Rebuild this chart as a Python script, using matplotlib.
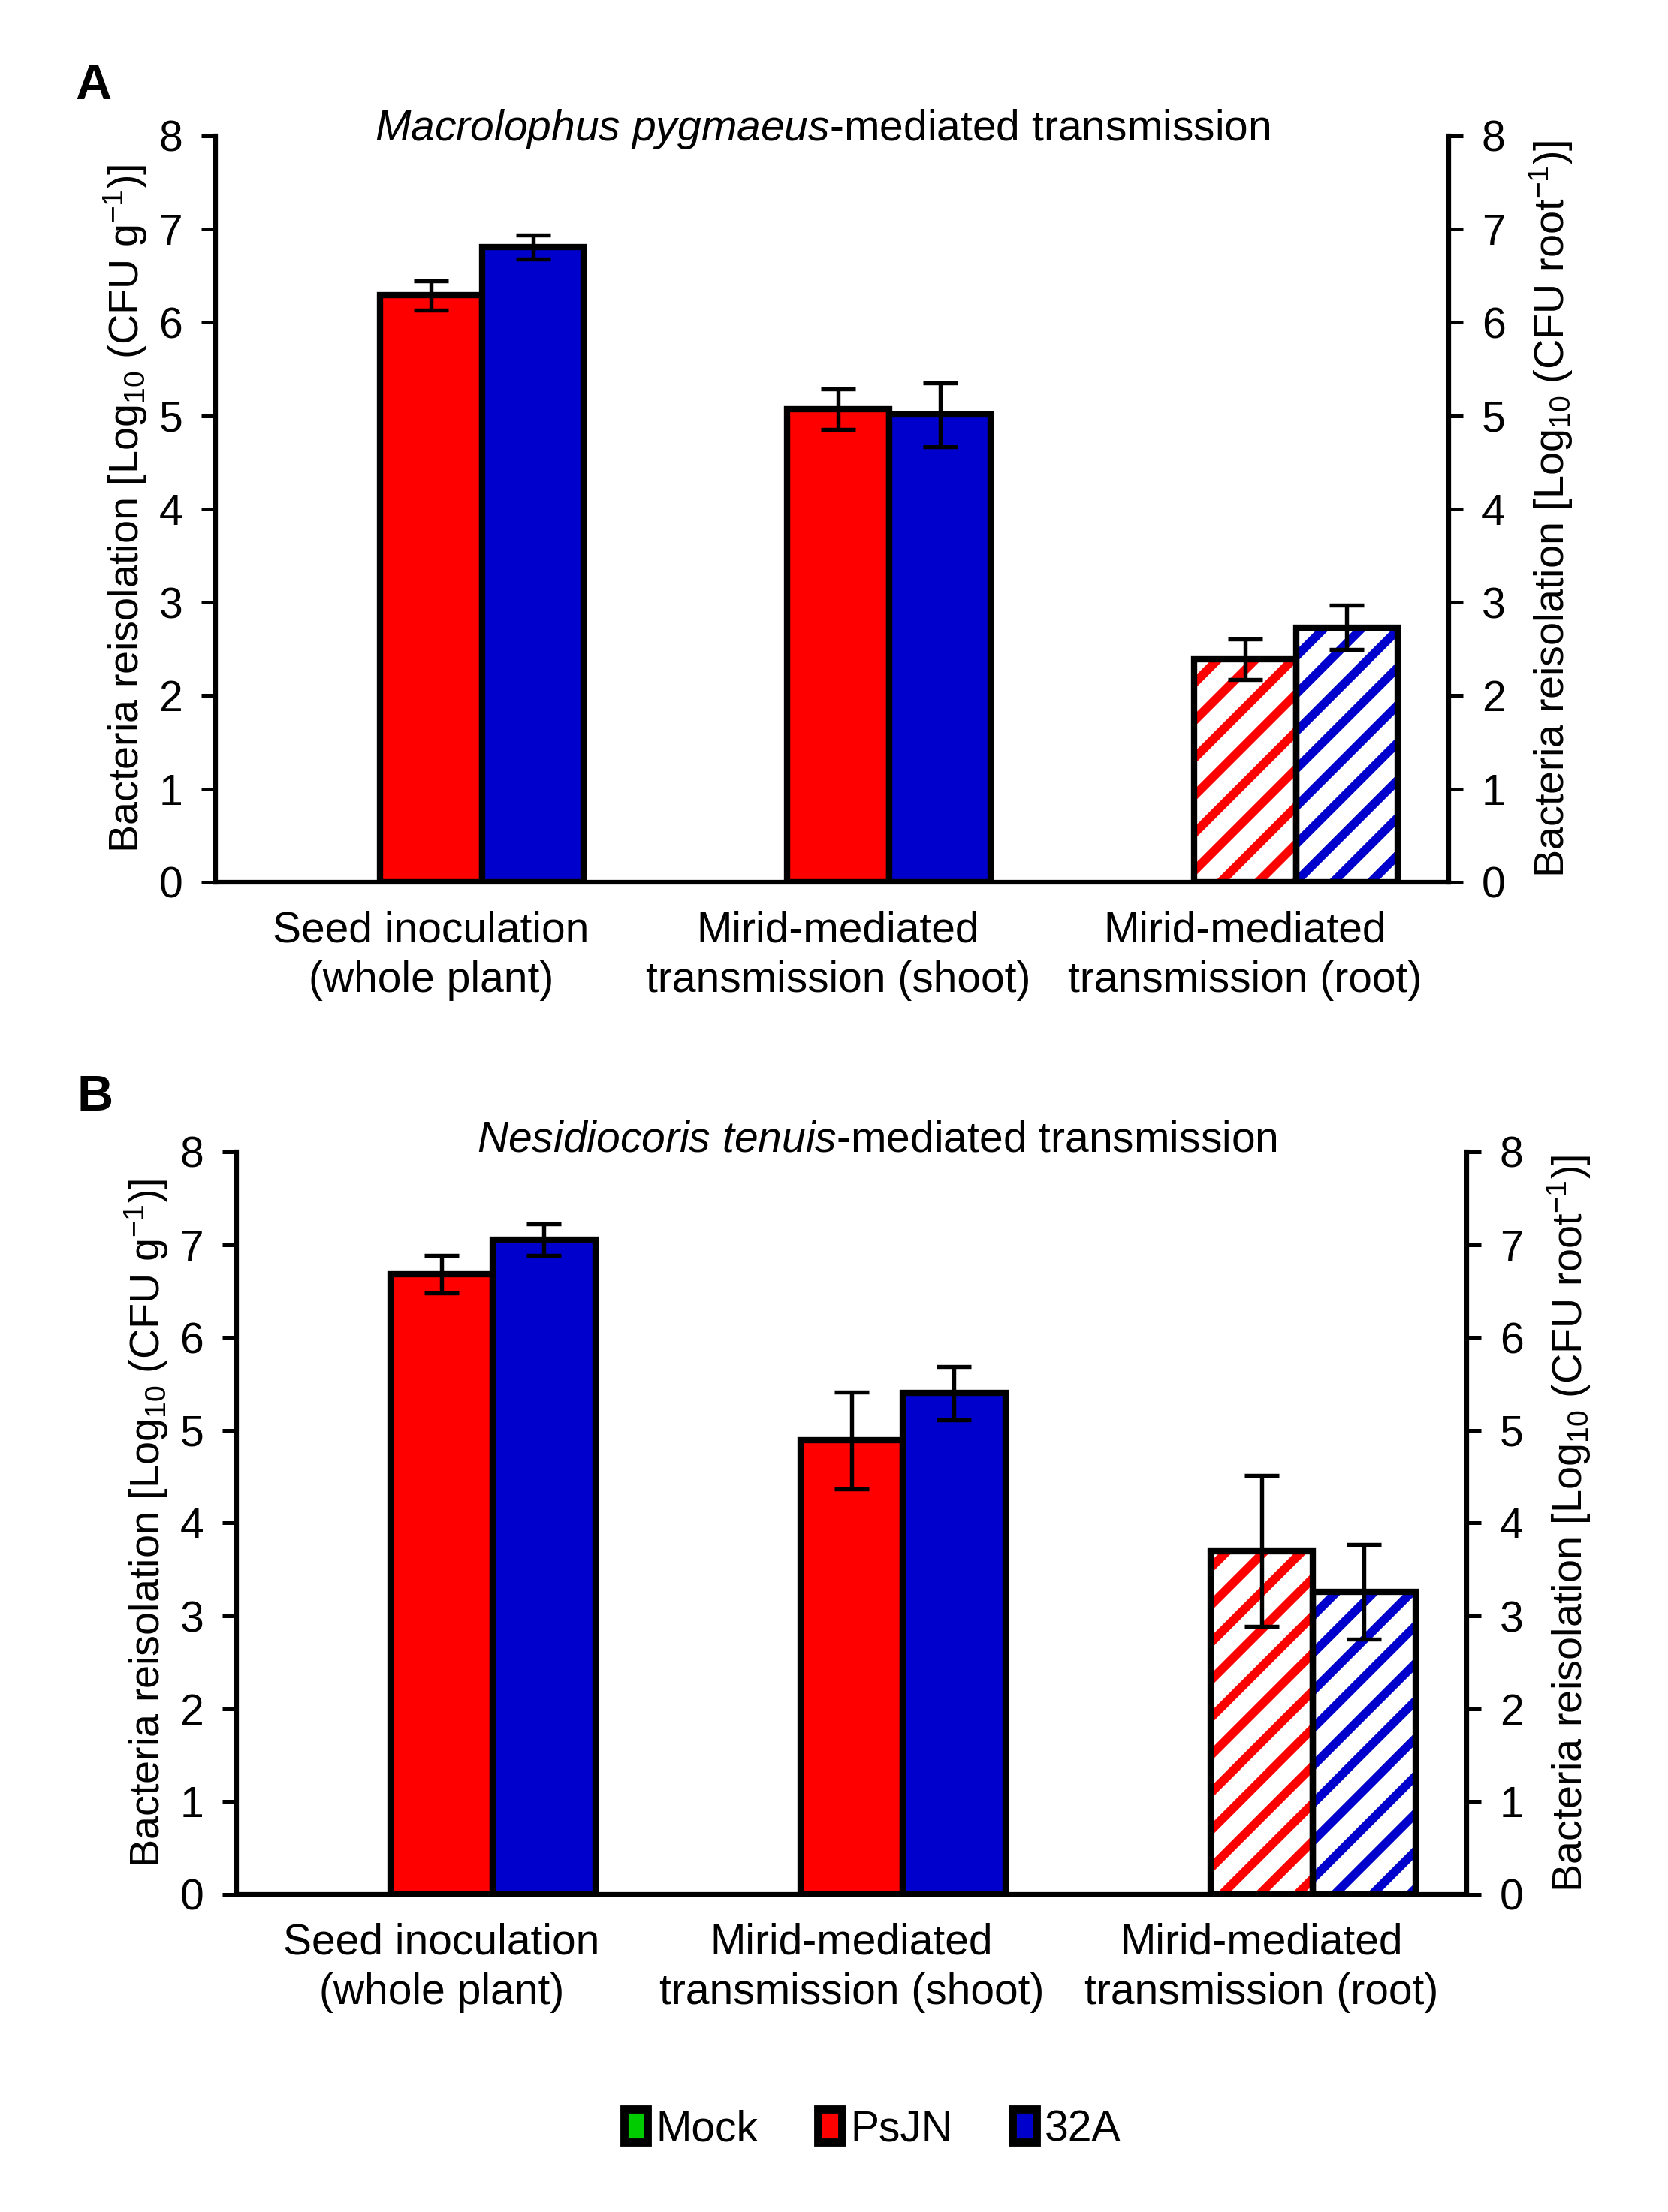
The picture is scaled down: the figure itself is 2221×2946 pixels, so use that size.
import numpy as np
import matplotlib
matplotlib.use("Agg")
import matplotlib.pyplot as plt
from matplotlib.patches import Patch

plt.rcParams['font.family'] = ['Liberation Sans', 'DejaVu Sans']
plt.rcParams['mathtext.fontset'] = 'custom'
plt.rcParams['mathtext.rm'] = 'Liberation Sans'
plt.rcParams['mathtext.it'] = 'Liberation Sans:italic'
plt.rcParams['hatch.linewidth'] = 2.8

# data
categories = ["Seed inoculation\n(whole plant)",
              "Mirid-mediated\ntransmission (shoot)",
              "Mirid-mediated\ntransmission (root)"]
series = ["Mock", "PsJN", "32A"]
colors = {"Mock": "#00CC00", "PsJN": "#FF0000", "32A": "#0000CC"}

mock_a = [0, 0, 0]
psjn_a = [6.29, 5.07, 2.39]
psjn_a_err = [0.155, 0.215, 0.22]
a32_a = [6.81, 5.01, 2.73]
a32_a_err = [0.13, 0.345, 0.235]

mock_b = [0, 0, 0]
psjn_b = [6.68, 4.89, 3.70]
psjn_b_err = [0.20, 0.52, 0.81]
a32_b = [7.05, 5.40, 3.26]
a32_b_err = [0.17, 0.29, 0.51]

yticks = [0, 1, 2, 3, 4, 5, 6, 7, 8]

fig = plt.figure(figsize=(2221 / 300, 2946 / 300), dpi=300)
ax_a = fig.add_axes([0.1292, 0.6012, 0.8685 - 0.1292, 0.9386 - 0.6012])
ax_b = fig.add_axes([0.1418, 0.1436, 0.8793 - 0.1418, 0.4793 - 0.1436])

FS = 13.7
width = 0.25


def draw_panel(ax, mock, psjn, psjn_err, a32, a32_err, left=-0.5):
    x = np.arange(len(categories))
    vals = {"Mock": mock, "PsJN": psjn, "32A": a32}
    errs = {"PsJN": psjn_err, "32A": a32_err}
    offs = {"Mock": -width, "PsJN": 0.0, "32A": width}
    for s in series:
        xs = x + offs[s]
        v = np.array(vals[s], dtype=float)
        lw = 0 if s == "Mock" else 2.0
        # first two groups solid, root group hatched
        ax.bar(xs[:2], v[:2], width, color=colors[s], edgecolor='black',
               linewidth=lw, zorder=2)
        ax.bar(xs[2:], v[2:], width, color='white', edgecolor=colors[s],
               hatch='//', linewidth=0, zorder=2)
        ax.bar(xs[2:], v[2:], width, fill=False, edgecolor='black',
               linewidth=lw, zorder=3)
        if s in errs:
            ax.errorbar(xs, v, yerr=errs[s], fmt='none', ecolor='black',
                        elinewidth=1.3, capsize=5.5, capthick=1.3, zorder=4)
    ax.set_xlim(left, 2.5)
    ax.set_ylim(0, 8)
    ax.set_yticks(yticks)
    ax.set_xticks(x)
    ax.set_xticklabels(categories, fontsize=FS, linespacing=1.3)
    ax.tick_params(axis='x', length=0, pad=9)
    ax.tick_params(axis='y', direction='out', length=4.5, width=1.2,
                   labelsize=FS, pad=6)
    for sp in ['left', 'bottom']:
        ax.spines[sp].set_linewidth(1.5)
    ax.spines['top'].set_visible(False)
    ax.spines['right'].set_visible(False)
    ax.set_ylabel(r"Bacteria reisolation [Log$_{10}$ (CFU g$^{-1}$)]",
                  fontsize=13.4, labelpad=3)
    ax2 = ax.twinx()
    ax2.set_ylim(0, 8)
    ax2.set_yticks(yticks)
    ax2.tick_params(axis='y', direction='out', length=4.5, width=1.2,
                    labelsize=FS, pad=6)
    ax2.spines['top'].set_visible(False)
    ax2.spines['left'].set_visible(False)
    ax2.spines['bottom'].set_visible(False)
    ax2.spines['right'].set_linewidth(1.5)
    ax2.set_ylabel(r"Bacteria reisolation [Log$_{10}$ (CFU root$^{-1}$)]",
                   fontsize=13.4, labelpad=7)
    return ax2


draw_panel(ax_a, mock_a, psjn_a, psjn_a_err, a32_a, a32_a_err, left=-0.53)
draw_panel(ax_b, mock_b, psjn_b, psjn_b_err, a32_b, a32_b_err, left=-0.5)

fig.text(0.493, 1 - 172 / 2946, r"$\it{Macrolophus\ pygmaeus}$-mediated transmission",
         ha='center', va='center', fontsize=FS)
fig.text(0.526, 1 - 1518 / 2946, r"$\it{Nesidiocoris\ tenuis}$-mediated transmission",
         ha='center', va='center', fontsize=FS)

fig.text(0.056, 1 - 115 / 2946, "A", fontsize=16, fontweight='bold',
         ha='center', va='center')
fig.text(0.057, 1 - 1462 / 2946, "B", fontsize=16, fontweight='bold',
         ha='center', va='center')

handles = [Patch(facecolor=colors[s], edgecolor='black', linewidth=2.6, label=s)
           for s in series]
fig.legend(handles=handles, loc='center', bbox_to_anchor=(0.523, 1 - 2836 / 2946),
           ncol=3, frameon=False, fontsize=FS, handlelength=0.55,
           handleheight=0.8, handletextpad=0.2, columnspacing=1.4)

fig.savefig("out.png", dpi=300)
